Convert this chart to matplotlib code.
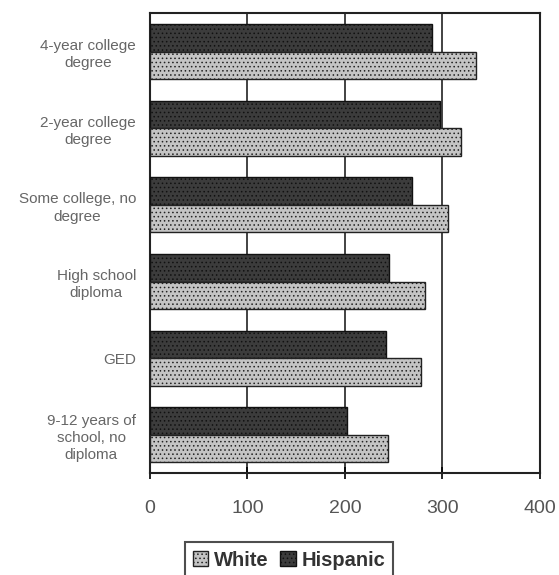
import matplotlib
matplotlib.use("Agg")
import matplotlib.pyplot as plt
import numpy as np

plt.rcParams['font.family'] = ['Liberation Sans', 'DejaVu Sans']
plt.rcParams['hatch.linewidth'] = 0.6

categories = ["4-year college\ndegree", "2-year college\ndegree", "Some college, no\ndegree",
              "High school\ndiploma", "GED", "9-12 years of\nschool, no\ndiploma"]
white = [334, 319, 306, 282, 278, 244]
hispanic = [289, 297, 269, 245, 242, 202]
xticks = [0, 100, 200, 300, 400]

fig = plt.figure(figsize=(5.59, 5.75), dpi=100)
ax = fig.add_axes([0.268, 0.177, 0.698, 0.800])

y = np.arange(len(categories))
h = 0.36
ax.barh(y - h / 2, hispanic, height=h, facecolor='#3c3c3c', edgecolor='#111111',
        hatch='....', linewidth=1.0, label='Hispanic', zorder=3)
ax.barh(y + h / 2, white, height=h, facecolor='#c4c4c4', edgecolor='#222222',
        hatch='....', linewidth=1.0, label='White', zorder=3)

ax.set_xlim(0, 400)
ax.set_ylim(len(categories) - 0.5, -0.5)
ax.set_yticks(y)
ax.set_yticklabels(categories, fontsize=11, color='#666666', multialignment='center',
                   linespacing=1.3)
ax.tick_params(axis='y', length=0, pad=10)
ax.set_xticks(xticks)
ax.set_xticklabels([str(v) for v in xticks], fontsize=14, color='#555555')
ax.tick_params(axis='x', direction='inout', length=8, pad=15, width=1.2)
ax.xaxis.grid(True, color='#222222', linewidth=1.2, zorder=0)
for s in ax.spines.values():
    s.set_linewidth(1.5)
    s.set_color('#222222')

handles, labels = ax.get_legend_handles_labels()
leg = fig.legend(handles[::-1], labels[::-1], loc='lower center', ncol=2,
                 bbox_to_anchor=(0.517, -0.022), frameon=True, fancybox=False,
                 edgecolor='#222222', handlelength=0.75, handleheight=0.75,
                 handletextpad=0.3, columnspacing=0.6, borderpad=0.4,
                 prop={'size': 14.5, 'weight': 'bold'})
for t in leg.get_texts():
    t.set_color('#333333')
leg.get_frame().set_linewidth(1.5)

fig.savefig("out.png", dpi=100)
